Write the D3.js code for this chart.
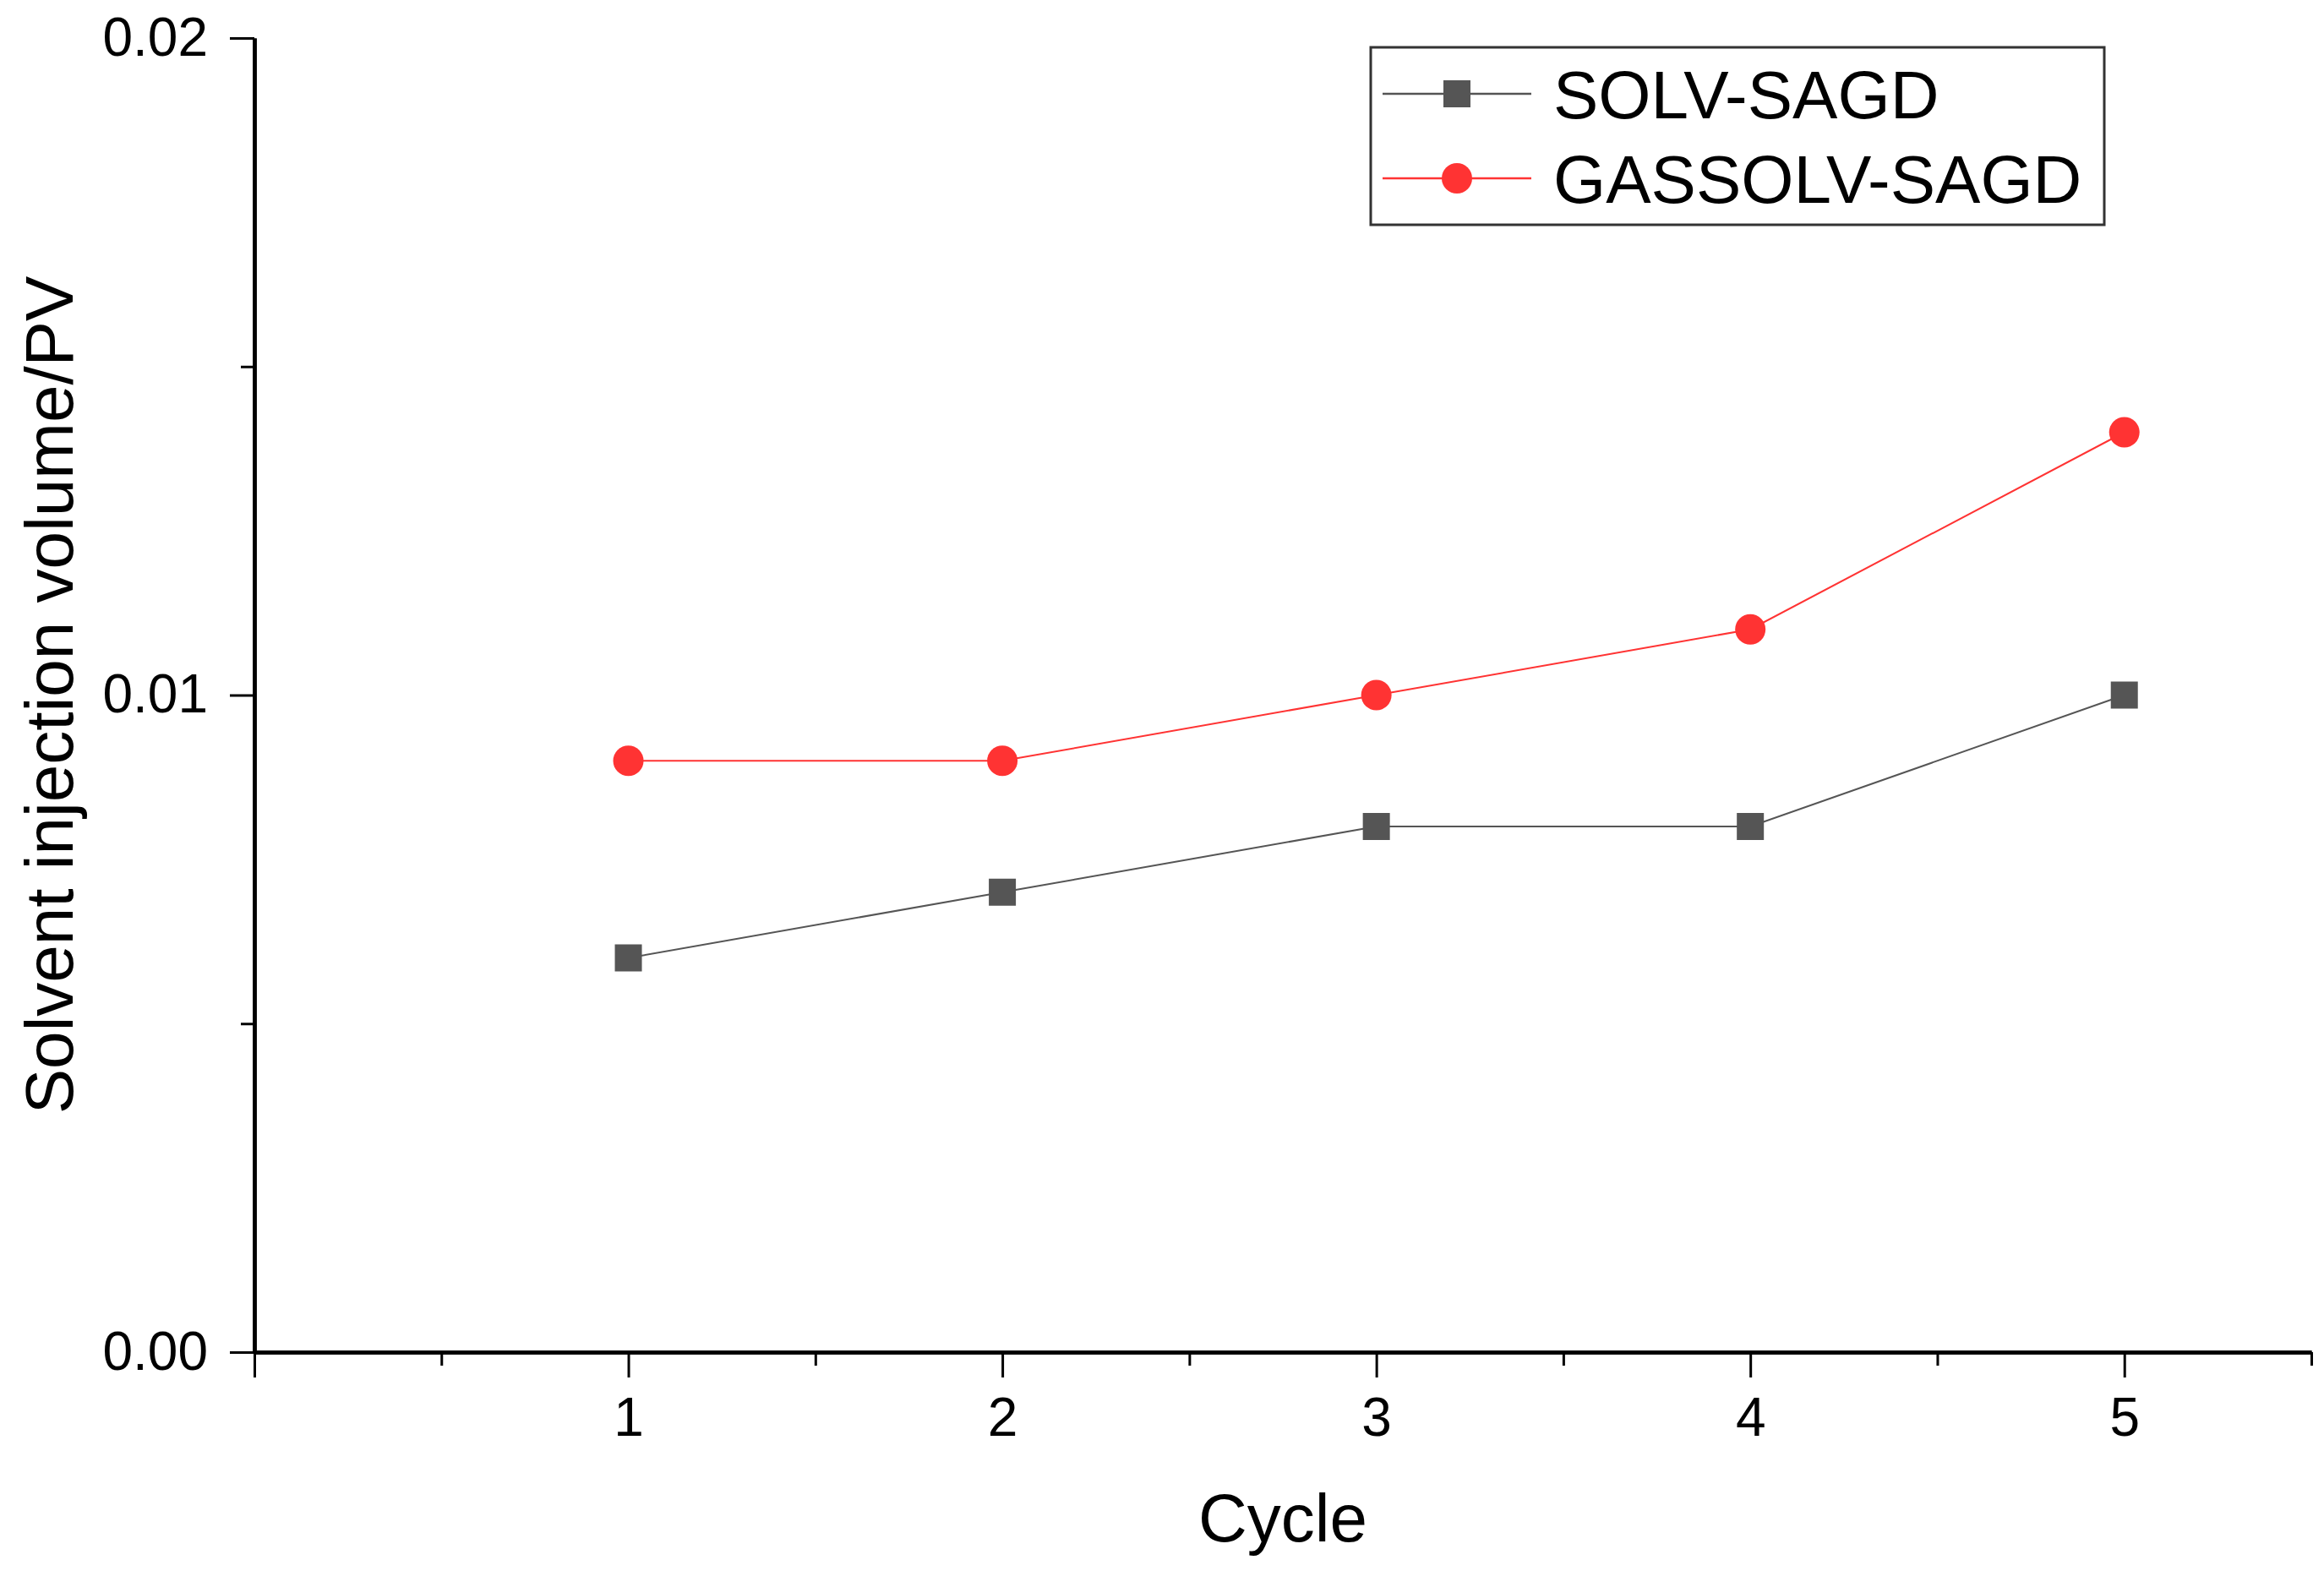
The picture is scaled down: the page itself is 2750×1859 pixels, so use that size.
<!DOCTYPE html>
<html>
<head>
<meta charset="utf-8">
<script src="https://cdn.jsdelivr.net/npm/d3@7"></script>
<style>
	body { margin: 0; background: #fff; }
	text { font-family: "Liberation Sans", Arial, sans-serif; }
</style>
</head>
<body>
<div id="chart"></div>
<script>
/**
 * Chart data.
 */
var cycles = [1, 2, 3, 4, 5];
var solvSagd = [0.006, 0.007, 0.008, 0.008, 0.010];
var gassolvSagd = [0.009, 0.009, 0.010, 0.011, 0.014];
var seriesNames = ["SOLV-SAGD", "GASSOLV-SAGD"];
var xMajorTicks = [0, 1, 2, 3, 4, 5];
var xMinorTicks = [0.5, 1.5, 2.5, 3.5, 4.5, 5.5];
var yMajorTicks = [0, 0.01, 0.02];
var yMinorTicks = [0.005, 0.015];
var yTickLabels = ["0.00", "0.01", "0.02"];

{
	var width = 2750,
		height = 1859,
		margin = {
			top: 45,
			right: 15,
			bottom: 259,
			left: 301
		};

	var svg = d3.select("#chart").append("svg")
		.attr("width", width)
		.attr("height", height);

	var x = d3.scaleLinear()
		.domain([0, 5.5])
		.range([margin.left, width - margin.right]);

	var y = d3.scaleLinear()
		.domain([0, 0.02])
		.range([height - margin.bottom, margin.top]);

	// Minor ticks first, so the major axes draw on top.
	svg.append("g")
		.attr("class", "axis minor")
		.attr("transform", "translate(0," + y(0) + ")")
		.call(d3.axisBottom(x).tickValues(xMinorTicks).tickSize(16).tickSizeOuter(0).tickFormat(""));

	svg.append("g")
		.attr("class", "axis minor")
		.attr("transform", "translate(" + x(0) + ",0)")
		.call(d3.axisLeft(y).tickValues(yMinorTicks).tickSize(16).tickSizeOuter(0).tickFormat(""));

	var xAxis = svg.append("g")
		.attr("class", "axis")
		.attr("transform", "translate(0," + y(0) + ")")
		.call(d3.axisBottom(x)
			.tickValues(xMajorTicks)
			.tickSize(30)
			.tickSizeOuter(0)
			.tickPadding(24)
			.tickFormat(function (d) {
				return d === 0 ? "" : d;
			}));

	var yAxis = svg.append("g")
		.attr("class", "axis")
		.attr("transform", "translate(" + x(0) + ",0)")
		.call(d3.axisLeft(y)
			.tickValues(yMajorTicks)
			.tickSize(29)
			.tickSizeOuter(0)
			.tickPadding(26)
			.tickFormat(function (d, i) {
				return yTickLabels[i];
			}));

	svg.selectAll(".axis path.domain")
		.attr("stroke", "#000")
		.attr("stroke-width", 4.5);
	svg.selectAll(".axis .tick line")
		.attr("stroke", "#000")
		.attr("stroke-width", 3);
	svg.selectAll(".axis .tick text")
		.attr("font-size", 64)
		.attr("fill", "#000");

	// Axis titles.
	svg.append("text")
		.attr("x", (x.range()[0] + x.range()[1]) / 2)
		.attr("y", 1824)
		.attr("text-anchor", "middle")
		.attr("font-size", 80)
		.text("Cycle");

	svg.append("text")
		.attr("transform", "translate(86," + (y.range()[0] + y.range()[1]) / 2 + ") rotate(-90)")
		.attr("text-anchor", "middle")
		.attr("font-size", 80)
		.text("Solvent injection volume/PV");

	var series = [
		{ name: seriesNames[0], values: solvSagd, color: "#555555", line: "#555555", shape: "square" },
		{ name: seriesNames[1], values: gassolvSagd, color: "#ff3333", line: "#ff3333", shape: "circle" }
	];

	var line = d3.line()
		.x(function (d, i) {
			return x(cycles[i]);
		})
		.y(function (d) {
			return y(d);
		});

	function drawMarker(g, s, cx, cy) {
		if (s.shape === "square") {
			g.append("rect")
				.attr("x", cx - 16)
				.attr("y", cy - 16)
				.attr("width", 32)
				.attr("height", 32)
				.attr("fill", s.color);
		} else {
			g.append("circle")
				.attr("cx", cx)
				.attr("cy", cy)
				.attr("r", 18)
				.attr("fill", s.color);
		}
	}

	series.forEach(function (s) {
		svg.append("path")
			.datum(s.values)
			.attr("fill", "none")
			.attr("stroke", s.line)
			.attr("stroke-width", 2)
			.attr("d", line);

		var g = svg.append("g");
		s.values.forEach(function (v, i) {
			drawMarker(g, s, x(cycles[i]), y(v));
		});
	});

	// Legend.
	var legend = svg.append("g")
		.attr("transform", "translate(1622,56)");

	legend.append("rect")
		.attr("width", 868)
		.attr("height", 210)
		.attr("fill", "#fff")
		.attr("stroke", "#333")
		.attr("stroke-width", 3);

	series.forEach(function (s, i) {
		var ly = 55 + i * 100;
		var row = legend.append("g");
		row.append("line")
			.attr("x1", 14)
			.attr("x2", 190)
			.attr("y1", ly)
			.attr("y2", ly)
			.attr("stroke", s.line)
			.attr("stroke-width", 2.5);
		drawMarker(row, s, 102, ly);
		row.append("text")
			.attr("x", 216)
			.attr("y", ly)
			.attr("dy", "0.36em")
			.attr("font-size", 80)
			.text(s.name);
	});
}
</script>
</body>
</html>
